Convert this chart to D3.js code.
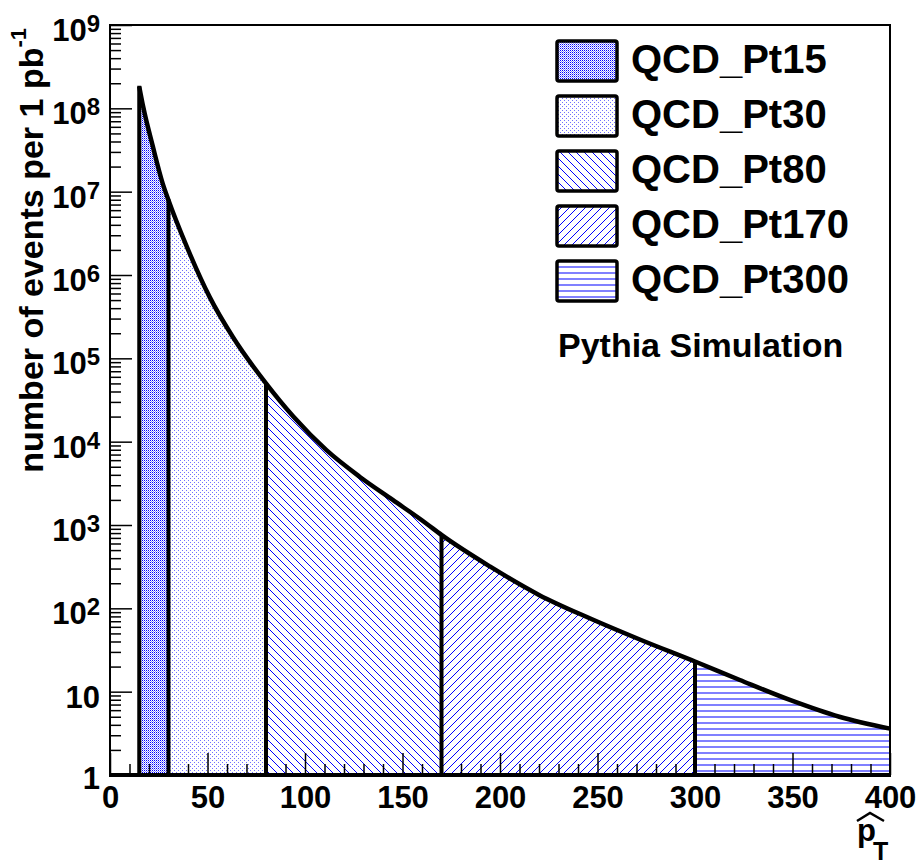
<!DOCTYPE html>
<html>
<head>
<meta charset="utf-8">
<script src="https://cdn.jsdelivr.net/npm/d3@7"></script>
<style>
  body { margin: 0; background: #fff; }
  svg { display: block; }
  text { font-family: "Liberation Sans", Arial, sans-serif; font-weight: bold; fill: #000; }
</style>
</head>
<body>
<svg id="chart" width="924" height="864"></svg>
<script>
// pt-hat spectrum (events per 1 pb^-1)
var ptHat  = [15, 17, 22, 27, 30, 39, 51, 63, 80, 94, 111, 128, 145, 162, 170, 195, 220, 246, 272, 300, 323, 349, 374, 400];
var events = [1.82e8, 1.05e8, 3.47e7, 1.26e7, 7.9e6, 2.3e6, 5.5e5, 1.8e5, 5.0e4, 2.0e4, 7.9e3, 3.8e3, 2.0e3, 1.05e3, 760, 316, 145, 76, 42, 23, 13.8, 7.9, 5.0, 3.6];

var sampleNames = ["QCD_Pt15", "QCD_Pt30", "QCD_Pt80", "QCD_Pt170", "QCD_Pt300"];
var sampleLow   = [15, 30, 80, 170, 300];
var sampleHigh  = [30, 80, 170, 300, 400];
var samplePattern = ["dense", "sparse", "back", "fwd", "horiz"];

var xTicks = [0, 50, 100, 150, 200, 250, 300, 350, 400];
var yDecades = [0, 1, 2, 3, 4, 5, 6, 7, 8, 9];

var svg = d3.select("#chart");
var x = d3.scaleLinear().domain([0, 400]).range([110, 890]);
var y = d3.scaleLog().domain([1, 1e9]).range([775, 25]);

// fill patterns (ROOT-like)
var defs = svg.append("defs");
var p = defs.append("pattern").attr("id", "dense").attr("patternUnits", "userSpaceOnUse").attr("width", 2).attr("height", 2);
p.append("rect").attr("width", 2).attr("height", 2).attr("fill", "#fff");
p.append("rect").attr("x", 0).attr("y", 0).attr("width", 1).attr("height", 1).attr("fill", "#0000ff");
p.append("rect").attr("x", 1).attr("y", 1).attr("width", 1).attr("height", 1).attr("fill", "#9090ff");

p = defs.append("pattern").attr("id", "sparse").attr("patternUnits", "userSpaceOnUse").attr("width", 4).attr("height", 4);
p.append("rect").attr("width", 4).attr("height", 4).attr("fill", "#fff");
p.append("rect").attr("x", 0).attr("y", 0).attr("width", 1).attr("height", 1).attr("fill", "#7070ff");
p.append("rect").attr("x", 2).attr("y", 2).attr("width", 1).attr("height", 1).attr("fill", "#7070ff");

// diagonal hatches built from single pixels so they stay crisp blue
var hs = 8;
p = defs.append("pattern").attr("id", "back").attr("patternUnits", "userSpaceOnUse").attr("width", hs).attr("height", hs);
p.append("rect").attr("width", hs).attr("height", hs).attr("fill", "#fff");
p.selectAll("rect.px").data(d3.range(hs)).enter().append("rect").attr("class", "px")
  .attr("x", function(d) { return d; }).attr("y", function(d) { return d; })
  .attr("width", 1).attr("height", 1).attr("fill", "#0000ff");

p = defs.append("pattern").attr("id", "fwd").attr("patternUnits", "userSpaceOnUse").attr("width", hs).attr("height", hs);
p.append("rect").attr("width", hs).attr("height", hs).attr("fill", "#fff");
p.selectAll("rect.px").data(d3.range(hs)).enter().append("rect").attr("class", "px")
  .attr("x", function(d) { return d; }).attr("y", function(d) { return (hs - d) % hs; })
  .attr("width", 1).attr("height", 1).attr("fill", "#0000ff");

p = defs.append("pattern").attr("id", "horiz").attr("patternUnits", "userSpaceOnUse").attr("width", 6).attr("height", 6);
p.append("rect").attr("width", 6).attr("height", 6).attr("fill", "#fff");
p.append("rect").attr("x", 0).attr("y", 2).attr("width", 6).attr("height", 2).attr("fill", "#8080ff");

var pts = ptHat.map(function(d, i) { return [d, events[i]]; });

var area = d3.area()
  .x(function(d) { return x(d[0]); })
  .y0(y(1))
  .y1(function(d) { return y(d[1]); })
  .curve(d3.curveMonotoneX);

var line = d3.line()
  .x(function(d) { return x(d[0]); })
  .y(function(d) { return y(d[1]); })
  .curve(d3.curveMonotoneX);

sampleNames.forEach(function(name, i) {
  defs.append("clipPath").attr("id", "clip" + i)
    .append("rect")
    .attr("x", x(sampleLow[i])).attr("y", 0)
    .attr("width", x(sampleHigh[i]) - x(sampleLow[i])).attr("height", y(1));
  svg.append("path")
    .datum(pts)
    .attr("d", area)
    .attr("clip-path", "url(#clip" + i + ")")
    .attr("fill", "url(#" + samplePattern[i] + ")");
});

// axes ticks (inside)
var yMinor = [], yMajor = [];
yDecades.forEach(function(e) {
  yMajor.push(Math.pow(10, e));
  if (e < 9) for (var k = 2; k <= 9; k++) yMinor.push(k * Math.pow(10, e));
});
var xMinor = d3.range(10, 400, 10).filter(function(v) { return v % 50 != 0; });

function styleAxis(g) {
  g.select(".domain").remove();
  g.selectAll(".tick line").attr("stroke", "#000").attr("stroke-width", 1.5);
}

svg.append("g").attr("transform", "translate(110,0)")
  .call(d3.axisLeft(y).tickValues(yMinor).tickSize(-11).tickFormat(""))
  .call(styleAxis);
svg.append("g").attr("transform", "translate(110,0)")
  .call(d3.axisLeft(y).tickValues(yMajor).tickSize(-22).tickFormat(""))
  .call(styleAxis);
svg.append("g").attr("transform", "translate(0,775)")
  .call(d3.axisBottom(x).tickValues(xMinor).tickSize(-11).tickFormat(""))
  .call(styleAxis);
var xAxis = svg.append("g").attr("transform", "translate(0,775)")
  .call(d3.axisBottom(x).tickValues(xTicks).tickSize(-22).tickPadding(11).tickFormat(d3.format("d")))
  .call(styleAxis);
xAxis.selectAll(".tick text")
  .attr("font-size", "31px")
  .attr("font-family", "'Liberation Sans', Arial, sans-serif")
  .attr("font-weight", "bold")
  .attr("fill", "#000");

// curve outline and sample boundaries
svg.append("path")
  .datum(pts)
  .attr("d", line)
  .attr("fill", "none")
  .attr("stroke", "#000")
  .attr("stroke-width", 4.5);

sampleLow.forEach(function(lo) {
  var v = events[ptHat.indexOf(lo)];
  svg.append("line")
    .attr("x1", x(lo)).attr("x2", x(lo))
    .attr("y1", y(1)).attr("y2", y(v) - 1)
    .attr("stroke", "#000").attr("stroke-width", 4);
});

// frame
svg.append("path")
  .attr("d", "M" + x(0) + "," + y(1) + "V" + y(1e9) + "H" + x(400) + "V" + y(1))
  .attr("fill", "none").attr("stroke", "#000").attr("stroke-width", 2);
svg.append("line")
  .attr("x1", x(0) - 1).attr("x2", x(400) + 1)
  .attr("y1", y(1)).attr("y2", y(1))
  .attr("stroke", "#000").attr("stroke-width", 4);

// y labels
yDecades.forEach(function(e) {
  var t = svg.append("text")
    .attr("x", 100)
    .attr("y", y(Math.pow(10, e)) + (e == 0 ? 14 : 16))
    .attr("text-anchor", "end")
    .attr("font-size", "31px");
  if (e == 0) t.text("1");
  else if (e == 1) t.text("10");
  else {
    t.append("tspan").text("10");
    t.append("tspan").attr("font-size", "24px").attr("dy", -9).text(e);
  }
});

// y title
var yt = svg.append("text")
  .attr("transform", "translate(43,28) rotate(-90)")
  .attr("text-anchor", "end")
  .attr("font-size", "34px");
yt.append("tspan").text("number of events per 1 pb");
yt.append("tspan").attr("font-size", "22px").attr("dy", -17).text("-1");

// x title: p-hat with subscript T
svg.append("text").attr("x", 857).attr("y", 841).attr("font-size", "31px").text("p");
svg.append("text").attr("x", 873).attr("y", 860).attr("font-size", "25px").text("T");
svg.append("path")
  .attr("d", "M857,821L870,813L884,821")
  .attr("fill", "none").attr("stroke", "#000").attr("stroke-width", 2.5);

// legend
sampleNames.forEach(function(name, i) {
  svg.append("rect")
    .attr("x", 557).attr("y", 41 + 55 * i)
    .attr("width", 60).attr("height", 40)
    .attr("rx", 2)
    .attr("fill", "url(#" + samplePattern[i] + ")")
    .attr("stroke", "#000").attr("stroke-width", 3.5);
  svg.append("text")
    .attr("x", 631).attr("y", 72.5 + 55 * i)
    .attr("font-size", "40px")
    .text(name);
});

svg.append("text")
  .attr("x", 558).attr("y", 357)
  .attr("font-size", "34px")
  .text("Pythia Simulation");
</script>
</body>
</html>
